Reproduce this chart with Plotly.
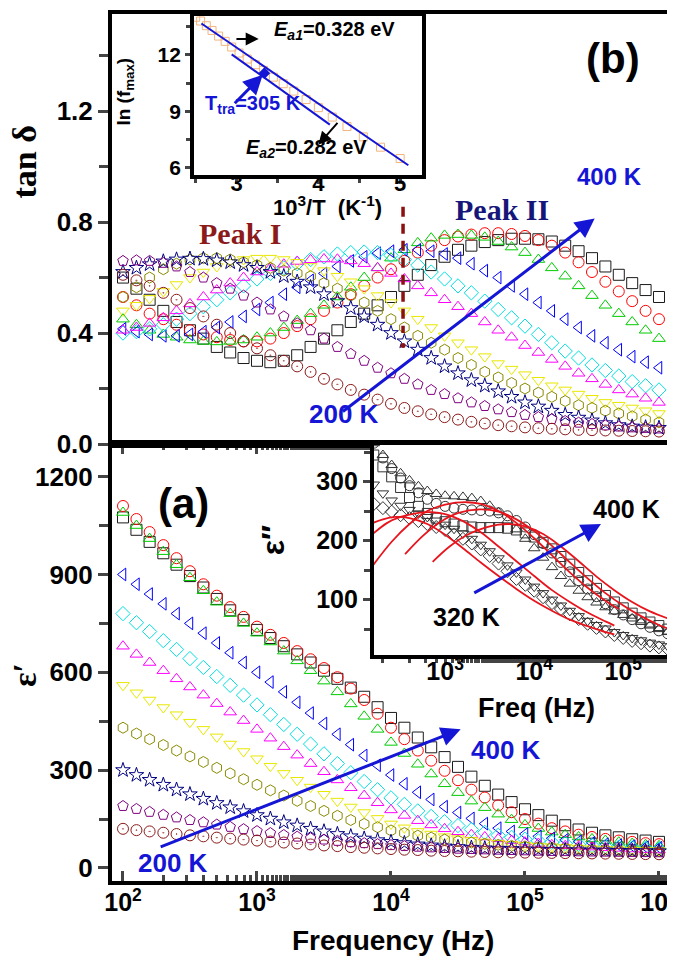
import plotly.graph_objects as go

# ==========================================================
# DATA
# ==========================================================

FREQ = [100, 126, 158, 200, 251, 316, 398, 501, 631, 794,
        1000, 1259, 1585, 1995, 2512, 3162, 3981, 5012, 6310, 7943,
        10000, 12589, 15849, 19953, 25119, 31623, 39811, 50119, 63096, 79433,
        100000, 125893, 158489, 199526, 251189, 316228, 398107, 501187, 630957, 794328,
        1000000]

TEMPS = ["400 K", "380 K", "360 K", "340 K", "320 K", "300 K",
         "280 K", "260 K", "240 K", "220 K", "200 K"]

# panel (a): real permittivity
EPS_400 = [1075, 1037, 1000, 965, 930, 895, 860, 825, 790, 760, 730, 705, 680, 655, 630, 605, 580, 553, 525, 493,
           460, 430, 400, 370, 340, 310, 280, 252, 225, 202, 180, 162, 145, 131, 118, 108, 100, 94, 88, 84, 80]
EPS_380 = [1110, 1070, 1030, 990, 950, 910, 870, 835, 800, 770, 740, 715, 690, 665, 640, 613, 585, 550, 515, 473,
           430, 395, 360, 329, 298, 269, 240, 216, 192, 171, 150, 136, 122, 112, 102, 95, 89, 84, 80, 76, 73]
EPS_360 = [1090, 1050, 1010, 970, 930, 890, 850, 815, 780, 750, 720, 693, 665, 635, 605, 573, 540, 503, 465, 425,
           385, 351, 318, 288, 258, 231, 205, 185, 165, 148, 132, 121, 110, 102, 95, 89, 84, 79, 75, 71, 68]
EPS_340 = [900, 870, 840, 810, 780, 750, 720, 690, 660, 630, 600, 570, 540, 508, 475, 443, 410, 378, 345, 315,
           285, 258, 232, 210, 188, 170, 152, 136, 122, 112, 104, 97, 91, 86, 81, 77, 73, 70, 67, 64, 62]
EPS_320 = [780, 752, 725, 697, 670, 642, 615, 587, 560, 530, 500, 470, 440, 410, 380, 350, 320, 292, 265, 240,
           215, 195, 175, 158, 142, 130, 118, 109, 100, 94, 88, 83, 79, 75, 72, 69, 66, 64, 62, 60, 58]
EPS_300 = [680, 655, 630, 605, 580, 555, 530, 504, 478, 452, 425, 398, 372, 346, 320, 295, 270, 246, 222, 200,
           178, 161, 145, 132, 120, 111, 102, 95, 89, 84, 79, 75, 71, 68, 66, 64, 62, 60, 58, 56, 55]
EPS_280 = [560, 537, 515, 492, 470, 447, 425, 402, 380, 357, 335, 312, 290, 269, 248, 226, 205, 187, 170, 152,
           135, 123, 112, 104, 96, 90, 85, 80, 76, 73, 70, 67, 65, 63, 61, 59, 58, 56, 55, 54, 53]
EPS_260 = [430, 412, 395, 377, 360, 342, 325, 307, 290, 272, 255, 238, 222, 206, 190, 175, 160, 147, 135, 125,
           115, 107, 99, 93, 87, 82, 78, 74, 71, 68, 66, 64, 62, 60, 58, 56, 55, 54, 53, 52, 51]
EPS_240 = [300, 285, 270, 255, 240, 226, 212, 199, 186, 174, 162, 151, 140, 130, 120, 112, 104, 97, 90, 85,
           80, 76, 72, 69, 66, 64, 62, 60, 59, 58, 57, 56, 55, 54.5, 54, 53.5, 53, 52.5, 52, 51.5, 51]
EPS_220 = [190, 181, 172, 163, 155, 147, 140, 133, 126, 119, 113, 107, 101, 96, 91, 87, 83, 79, 76, 73,
           70, 67, 65, 63, 61, 59, 58, 57, 56, 55, 54, 53, 52, 51.5, 51, 50.5, 50, 49.5, 49, 48.5, 48]
EPS_200 = [120, 116, 112, 108, 104, 100, 97, 93, 90, 87, 84, 81, 78, 75, 72, 69, 67, 64, 62, 60,
           58, 56, 55, 53, 52, 51, 50, 49, 48, 47.5, 47, 46.5, 46, 45.5, 45, 44.5, 44, 43.5, 43, 42.5, 42]

# panel (b): loss tangent
TAN_400 = [0.60, 0.56, 0.52, 0.48, 0.44, 0.41, 0.38, 0.35, 0.33, 0.31, 0.30, 0.295, 0.30, 0.32, 0.35, 0.38, 0.41,
           0.44, 0.47, 0.50, 0.53, 0.57, 0.61, 0.645, 0.675, 0.70, 0.715, 0.728, 0.735, 0.74, 0.74, 0.738, 0.73,
           0.715, 0.695, 0.67, 0.64, 0.61, 0.58, 0.555, 0.53]
TAN_380 = [0.53, 0.50, 0.47, 0.45, 0.43, 0.41, 0.395, 0.385, 0.375, 0.37, 0.37, 0.38, 0.40, 0.425, 0.45, 0.48,
           0.51, 0.54, 0.57, 0.60, 0.63, 0.66, 0.69, 0.715, 0.735, 0.748, 0.755, 0.76, 0.76, 0.757, 0.75, 0.735,
           0.715, 0.69, 0.655, 0.62, 0.585, 0.55, 0.515, 0.48, 0.45]
TAN_360 = [0.45, 0.43, 0.41, 0.395, 0.385, 0.375, 0.37, 0.368, 0.37, 0.375, 0.385, 0.40, 0.42, 0.445, 0.47, 0.50,
           0.53, 0.565, 0.60, 0.635, 0.67, 0.70, 0.725, 0.742, 0.752, 0.755, 0.752, 0.745, 0.73, 0.71, 0.69,
           0.665, 0.635, 0.605, 0.57, 0.535, 0.50, 0.47, 0.44, 0.41, 0.38]
TAN_340 = [0.415, 0.405, 0.395, 0.39, 0.39, 0.395, 0.405, 0.42, 0.44, 0.46, 0.485, 0.51, 0.54, 0.565, 0.59, 0.615,
           0.64, 0.66, 0.675, 0.688, 0.695, 0.70, 0.70, 0.695, 0.685, 0.67, 0.65, 0.625, 0.60, 0.57, 0.54, 0.51,
           0.48, 0.45, 0.42, 0.39, 0.365, 0.34, 0.315, 0.295, 0.275]
TAN_320 = [0.40, 0.405, 0.415, 0.43, 0.45, 0.47, 0.495, 0.52, 0.545, 0.57, 0.595, 0.615, 0.635, 0.65, 0.665, 0.675,
           0.685, 0.69, 0.692, 0.69, 0.68, 0.665, 0.645, 0.62, 0.595, 0.57, 0.545, 0.515, 0.485, 0.455, 0.425,
           0.395, 0.365, 0.335, 0.31, 0.285, 0.265, 0.245, 0.225, 0.21, 0.195]
TAN_300 = [0.41, 0.42, 0.435, 0.455, 0.48, 0.505, 0.53, 0.555, 0.58, 0.60, 0.62, 0.635, 0.648, 0.658, 0.664, 0.667,
           0.666, 0.66, 0.65, 0.635, 0.615, 0.595, 0.57, 0.545, 0.52, 0.495, 0.47, 0.44, 0.41, 0.385, 0.355, 0.33,
           0.305, 0.28, 0.255, 0.235, 0.215, 0.195, 0.18, 0.165, 0.15]
TAN_280 = [0.48, 0.50, 0.525, 0.55, 0.575, 0.60, 0.62, 0.64, 0.655, 0.665, 0.67, 0.67, 0.665, 0.655, 0.64, 0.625,
           0.605, 0.585, 0.56, 0.535, 0.51, 0.48, 0.45, 0.42, 0.39, 0.365, 0.34, 0.315, 0.29, 0.27, 0.25, 0.23,
           0.21, 0.195, 0.18, 0.165, 0.15, 0.14, 0.13, 0.12, 0.11]
TAN_260 = [0.53, 0.565, 0.60, 0.63, 0.65, 0.665, 0.67, 0.67, 0.665, 0.655, 0.645, 0.635, 0.625, 0.615, 0.605, 0.58,
           0.56, 0.535, 0.51, 0.48, 0.45, 0.42, 0.39, 0.365, 0.34, 0.31, 0.285, 0.26, 0.24, 0.22, 0.20, 0.185,
           0.17, 0.155, 0.14, 0.13, 0.12, 0.11, 0.10, 0.088, 0.078]
TAN_240 = [0.62, 0.635, 0.648, 0.658, 0.665, 0.668, 0.667, 0.662, 0.655, 0.645, 0.635, 0.62, 0.605, 0.585, 0.565,
           0.54, 0.515, 0.49, 0.46, 0.43, 0.40, 0.37, 0.34, 0.31, 0.28, 0.255, 0.23, 0.21, 0.19, 0.17, 0.15, 0.135,
           0.12, 0.105, 0.095, 0.085, 0.075, 0.068, 0.063, 0.06, 0.058]
TAN_220 = [0.66, 0.662, 0.66, 0.653, 0.64, 0.62, 0.60, 0.58, 0.56, 0.535, 0.51, 0.485, 0.46, 0.435, 0.41, 0.38,
           0.35, 0.325, 0.30, 0.275, 0.255, 0.235, 0.215, 0.195, 0.18, 0.165, 0.15, 0.137, 0.125, 0.115, 0.105,
           0.097, 0.09, 0.083, 0.077, 0.072, 0.067, 0.063, 0.06, 0.058, 0.056]
TAN_200 = [0.61, 0.59, 0.57, 0.545, 0.52, 0.49, 0.46, 0.43, 0.40, 0.37, 0.345, 0.32, 0.30, 0.28, 0.26, 0.235,
           0.215, 0.195, 0.178, 0.16, 0.145, 0.13, 0.118, 0.107, 0.097, 0.088, 0.08, 0.074, 0.068, 0.064, 0.06,
           0.057, 0.055, 0.053, 0.051, 0.05, 0.049, 0.048, 0.047, 0.046, 0.045]

# inset of (b): Arrhenius plot
INV_T = [2.50, 2.56, 2.63, 2.70, 2.78, 2.86, 2.94, 3.03, 3.13, 3.23, 3.33,
         3.45, 3.57, 3.70, 3.85, 4.00, 4.17, 4.35, 4.55, 4.76, 5.00]
LN_FMAX = [14.0, 13.8, 13.55, 13.3, 13.0, 12.72, 12.42, 12.1, 11.78, 11.48, 11.18,
           10.82, 10.47, 10.08, 9.63, 9.2, 8.7, 8.2, 7.65, 7.1, 6.5]
FIT_A_X = [2.57, 5.10]
FIT_A_Y = [13.67, 6.14]
FIT_B_X = [2.94, 4.14]
FIT_B_Y = [12.03, 8.30]

# inset of (a): imaginary permittivity 320-400 K (data up to ~4e5 Hz)
EPS2_320 = [290, 272, 262, 255, 249, 243, 238, 233, 228, 223, 218, 210, 203, 195, 185, 174, 161, 148, 135, 125,
            115, 104, 94, 84, 75, 67, 59, 52, 46, 40, 35, 30, 26, 22, 19, 16, 13]
EPS2_340 = [340, 315, 295, 280, 268, 259, 252, 246, 240, 234, 227, 220, 212, 203, 193, 182, 170, 158, 146, 134,
            122, 111, 100, 90, 81, 72, 64, 57, 51, 45, 40, 35, 31, 27, 24, 21, 18]
EPS2_360 = [420, 390, 365, 345, 328, 314, 302, 292, 284, 279, 276, 275, 274, 272, 267, 259, 248, 234, 219, 203,
            187, 171, 155, 140, 127, 115, 104, 95, 87, 80, 74, 68, 62, 56, 50, 45, 41]
EPS2_380 = [430, 395, 365, 340, 322, 306, 293, 281, 270, 263, 258, 255, 253, 252, 251, 250, 247, 242, 234, 223,
            210, 195, 179, 163, 147, 132, 118, 105, 93, 83, 74, 66, 59, 53, 47, 42, 38]
EPS2_400 = [400, 370, 345, 325, 308, 290, 273, 258, 246, 238, 232, 228, 225, 223, 222, 222, 222, 221, 218, 213,
            206, 197, 186, 173, 160, 146, 132, 119, 107, 96, 86, 77, 69, 62, 56, 50, 45]

FIT_320_F = [126, 200, 275, 398, 631, 1000, 1585, 2512, 3981, 6310, 10000, 15849, 25119, 39811, 63096, 79433]
FIT_320_E = [224, 236, 240, 238, 228, 210, 187, 163, 140, 118, 98, 81, 66, 55, 45, 41]
FIT_340_F = [126, 224, 316, 501, 708, 1000, 1585, 2512, 3981, 6310, 10000, 15849, 25119, 39811, 63096, 79433]
FIT_340_E = [200, 230, 240, 247, 248, 245, 233, 214, 190, 165, 140, 116, 96, 78, 63, 56]
FIT_360_F = [126, 251, 398, 631, 1000, 1738, 2512, 3981, 6310, 10000, 15849, 25119, 39811, 63096, 89125]
FIT_360_E = [140, 198, 228, 250, 261, 265, 262, 250, 230, 204, 175, 146, 120, 98, 84]
FIT_380_F = [355, 562, 891, 1413, 2455, 3981, 6310, 10000, 15849, 25119, 39811, 63096, 100000, 158489, 251189, 331131]
FIT_380_E = [177, 208, 232, 247, 253, 249, 236, 216, 191, 163, 136, 111, 90, 72, 57, 50]
FIT_400_F = [724, 1122, 1778, 2818, 3981, 5370, 7943, 12589, 19953, 31623, 50119, 79433, 125893, 199526, 331131]
FIT_400_E = [164, 190, 210, 222, 227, 228, 224, 211, 190, 165, 139, 116, 96, 80, 67]

# ==========================================================
# STYLE
# ==========================================================

SANS = "Liberation Sans"
SERIF = "Liberation Serif"
BLUE = "#1515d6"

COLORS = ["#1a1a1a", "#ff0000", "#00cc00", "#0000ff", "#00e0e0", "#ff00ff",
          "#e8e800", "#8a8a00", "#000080", "#800080", "#8b1a1a"]
SYMBOLS = ["square-open", "circle-open", "triangle-up-open", "triangle-left-open",
           "diamond-open", "triangle-up-open", "triangle-down-open", "hexagon-open",
           "star-open", "pentagon-open", "circle-open-dot"]

EPS_ALL = [EPS_400, EPS_380, EPS_360, EPS_340, EPS_320, EPS_300,
           EPS_280, EPS_260, EPS_240, EPS_220, EPS_200]
TAN_ALL = [TAN_400, TAN_380, TAN_360, TAN_340, TAN_320, TAN_300,
           TAN_280, TAN_260, TAN_240, TAN_220, TAN_200]


def bold(size, color="black", family=SANS):
    return dict(family=family, size=size, color=color, weight="bold")


fig = go.Figure()

# ==========================================================
# MAIN CURVES
# ==========================================================

for i in range(len(TEMPS)):
    fig.add_trace(go.Scatter(
        x=FREQ, y=EPS_ALL[i], mode="markers", name=TEMPS[i],
        marker=dict(symbol=SYMBOLS[i], size=11, color=COLORS[i], line=dict(width=1)),
        xaxis="x", yaxis="y"
    ))
    fig.add_trace(go.Scatter(
        x=FREQ, y=TAN_ALL[i], mode="markers", name=TEMPS[i],
        marker=dict(symbol=SYMBOLS[i], size=11, color=COLORS[i], line=dict(width=1)),
        xaxis="x2", yaxis="y2"
    ))

# dashed separator between peak I and peak II
fig.add_trace(go.Scatter(
    x=[12300, 12300], y=[0.855, 0.40], mode="lines",
    line=dict(color="#8b1010", width=3.5, dash="10px,7px"),
    xaxis="x2", yaxis="y2"
))
fig.add_trace(go.Scatter(
    x=[12300], y=[0.355], mode="markers",
    marker=dict(color="#8b1010", size=5),
    xaxis="x2", yaxis="y2"
))

# ==========================================================
# INSET (b): ln(f_max) vs 1000/T
# ==========================================================

fig.add_trace(go.Scatter(
    x=INV_T, y=LN_FMAX, mode="markers",
    marker=dict(symbol="square-open", size=8, color="#f2b57e", line=dict(width=1)),
    xaxis="x3", yaxis="y3"
))
for fx, fy in [(FIT_A_X, FIT_A_Y), (FIT_B_X, FIT_B_Y)]:
    fig.add_trace(go.Scatter(
        x=fx, y=fy, mode="lines", line=dict(color=BLUE, width=2),
        xaxis="x3", yaxis="y3"
    ))
fig.add_trace(go.Scatter(
    x=[3.34], y=[11.03], mode="markers",
    marker=dict(symbol="diamond", size=9, color=BLUE),
    xaxis="x3", yaxis="y3"
))

# ==========================================================
# INSET (a): eps'' vs frequency
# ==========================================================

EPS2_ALL = [EPS2_320, EPS2_340, EPS2_360, EPS2_380, EPS2_400]
EPS2_SYM = ["diamond-open", "triangle-down-open", "triangle-up-open", "circle-open", "square-open"]
for data, sym in zip(EPS2_ALL, EPS2_SYM):
    fig.add_trace(go.Scatter(
        x=FREQ[:len(data)], y=data, mode="markers",
        marker=dict(symbol=sym, size=10, color="#333333", line=dict(width=1)),
        xaxis="x4", yaxis="y4"
    ))

FITS = [(FIT_320_F, FIT_320_E), (FIT_340_F, FIT_340_E), (FIT_360_F, FIT_360_E),
        (FIT_380_F, FIT_380_E), (FIT_400_F, FIT_400_E)]
for ff, fe in FITS:
    fig.add_trace(go.Scatter(
        x=ff, y=fe, mode="lines", line=dict(color="#e8141c", width=1.8, shape="spline"),
        xaxis="x4", yaxis="y4"
    ))

# ==========================================================
# AXES
# ==========================================================

DEC = [100, 1000, 10000, 100000, 1000000]
DEC_TXT = ["10<sup>2</sup>", "10<sup>3</sup>", "10<sup>4</sup>", "10<sup>5</sup>", "10<sup>6</sup>"]

frame = dict(showline=True, linecolor="black", linewidth=4, showgrid=False, zeroline=False)

fig.update_layout(
    width=675, height=959,
    margin=dict(l=104, r=9, t=2, b=86),
    plot_bgcolor="white", paper_bgcolor="white",
    showlegend=False,
    xaxis=dict(
        **frame, domain=[0, 1], anchor="y", type="log", range=[1.918, 6.112],
        mirror="ticks", ticks="inside", ticklen=10, tickwidth=3,
        tickvals=DEC, ticktext=DEC_TXT, tickfont=bold(25), ticklabelstandoff=-4,
        minor=dict(ticks="inside", ticklen=6, tickwidth=2.5, showgrid=False)
    ),
    yaxis=dict(
        **frame, domain=[0, 0.504], anchor="x", range=[-40, 1300], mirror=True,
        ticks="outside", ticklen=10, tickwidth=3, tickvals=[0, 300, 600, 900, 1200],
        tickfont=bold(26),
        minor=dict(ticks="outside", ticklen=9, tickwidth=3, dtick=150, tick0=0)
    ),
    xaxis2=dict(
        **frame, domain=[0, 1], anchor="y2", type="log", range=[1.918, 6.112],
        mirror=True, showticklabels=False, ticks=""
    ),
    yaxis2=dict(
        **frame, domain=[0.504, 1], anchor="x2", range=[0, 1.55], mirror=True,
        ticks="outside", ticklen=10, tickwidth=3, tickvals=[0, 0.4, 0.8, 1.2],
        tickformat=".1f", tickfont=bold(26),
        minor=dict(ticks="outside", ticklen=9, tickwidth=3, dtick=0.2, tick0=0)
    ),
    xaxis3=dict(
        **frame, domain=[0.146, 0.552], anchor="y3", range=[2.48, 5.27], mirror=True,
        ticks="outside", ticklen=5, tickwidth=3, tickvals=[3, 4, 5], tickfont=bold(22),
        ticklabelstandoff=-20,
        minor=dict(ticks="outside", ticklen=4, tickwidth=3, dtick=0.5, tick0=0)
    ),
    yaxis3=dict(
        **frame, domain=[0.814, 0.998], anchor="x3", range=[5.61, 14.08], mirror=True,
        ticks="outside", ticklen=5, tickwidth=3, tickvals=[6, 9, 12], tickfont=bold(21),
        minor=dict(ticks="outside", ticklen=4, tickwidth=3, dtick=1.5, tick0=0)
    ),
    xaxis4=dict(
        **frame, domain=[0.466, 1], anchor="y4", type="log", range=[2.2, 5.57], mirror=True,
        ticks="outside", ticklen=5, tickwidth=3, tickvals=[1000, 10000, 100000],
        ticktext=["10<sup>3</sup>", "10<sup>4</sup>", "10<sup>5</sup>"], tickfont=bold(25),
        ticklabelstandoff=-14,
        minor=dict(ticks="outside", ticklen=4, tickwidth=2.5, showgrid=False)
    ),
    yaxis4=dict(
        **frame, domain=[0.2606, 0.5029], anchor="x4", range=[6, 362], mirror=True,
        ticks="outside", ticklen=7, tickwidth=3, tickvals=[100, 200, 300], tickfont=bold(25),
        minor=dict(ticks="outside", ticklen=6, tickwidth=3, dtick=50, tick0=0)
    ),
)

# ==========================================================
# TEXT AND ARROWS
# ==========================================================

notes = [
    # axis titles
    dict(x=-0.156, y=0.829, xref="paper", yref="paper", text="tan δ", textangle=-90,
         font=bold(34, family=SERIF)),
    dict(x=-0.156, y=0.238, xref="paper", yref="paper", text="ε′", textangle=-90,
         font=bold(34, family=SERIF)),
    dict(x=0.5, y=-0.069, xref="paper", yref="paper", text="Frequency (Hz)", font=bold(28)),
    dict(x=0.023, y=0.9104, xref="paper", yref="paper", text="ln (f<sub>max</sub>)",
         textangle=-90, font=bold(19)),
    dict(x=0.384, y=0.779, xref="paper", yref="paper",
         text="10<sup>3</sup>/T  (K<sup>-1</sup>)", font=bold(22)),
    dict(x=0.288, y=0.394, xref="paper", yref="paper", text="ε′′", textangle=-90,
         font=bold(32)),
    dict(x=0.756, y=0.200, xref="paper", yref="paper", text="Freq (Hz)", font=bold(27)),
    # panel (b)
    dict(x=5.66, y=1.39, xref="x2", yref="y2", text="(b)", font=bold(42)),
    dict(x=5.63, y=0.964, xref="x2", yref="y2", text="400 K", font=bold(24, BLUE)),
    dict(x=3.65, y=0.11, xref="x2", yref="y2", text="200 K", font=bold(26, BLUE)),
    dict(x=4.83, y=0.844, xref="x2", yref="y2", text="Peak II",
         font=bold(30, "#16167a", SERIF)),
    dict(x=2.88, y=0.76, xref="x2", yref="y2", text="Peak I",
         font=bold(30, "#8b1a1a", SERIF)),
    # inset (b)
    dict(x=3.43, y=13.3, xref="x3", yref="y3", xanchor="left",
         text="<i>E<sub>a1</sub></i>=0.328 eV", font=bold(20)),
    dict(x=3.85, y=7.05, xref="x3", yref="y3",
         text="<i>E<sub>a2</sub></i>=0.282 eV", font=bold(20)),
    dict(x=2.59, y=9.35, xref="x3", yref="y3", xanchor="left",
         text="T<sub>tra</sub>=305 K", font=bold(20, BLUE)),
    # panel (a)
    dict(x=2.45, y=1117, xref="x", yref="y", text="(a)", font=bold(42)),
    dict(x=4.855, y=361, xref="x", yref="y", text="400 K", font=bold(26, BLUE)),
    dict(x=2.37, y=15, xref="x", yref="y", text="200 K", font=bold(26, BLUE)),
    # inset (a)
    dict(x=5.04, y=253, xref="x4", yref="y4", text="400 K", font=bold(25)),
    dict(x=3.24, y=70, xref="x4", yref="y4", text="320 K", font=bold(25)),
]
for n in notes:
    n.setdefault("showarrow", False)
    n.setdefault("xanchor", "center")
    n.setdefault("yanchor", "middle")
    fig.add_annotation(**n)

arrows = [
    # (xref, yref, tail x, tail y, head x, head y, color, width)
    ("x2", "y2", 3.63, 0.113, 5.52, 0.813, BLUE, 3),
    ("x", "y", 2.27, 63, 4.52, 425, BLUE, 3),
    ("x4", "y4", 3.31, 110, 4.75, 228, BLUE, 3),
    ("x3", "y3", 2.96, 9.35, 3.32, 10.95, BLUE, 3),
    ("x3", "y3", 2.98, 12.85, 3.27, 12.85, "black", 2),
    ("x3", "y3", 4.25, 8.47, 4.0, 7.23, "black", 2),
]
for xr, yr, tx, ty, hx, hy, col, w in arrows:
    fig.add_annotation(
        x=hx, y=hy, ax=tx, ay=ty, xref=xr, yref=yr, axref=xr, ayref=yr,
        text="", showarrow=True, arrowhead=2, arrowsize=1.3, arrowwidth=w,
        arrowcolor=col, standoff=0
    )

fig.write_html("out.html")
